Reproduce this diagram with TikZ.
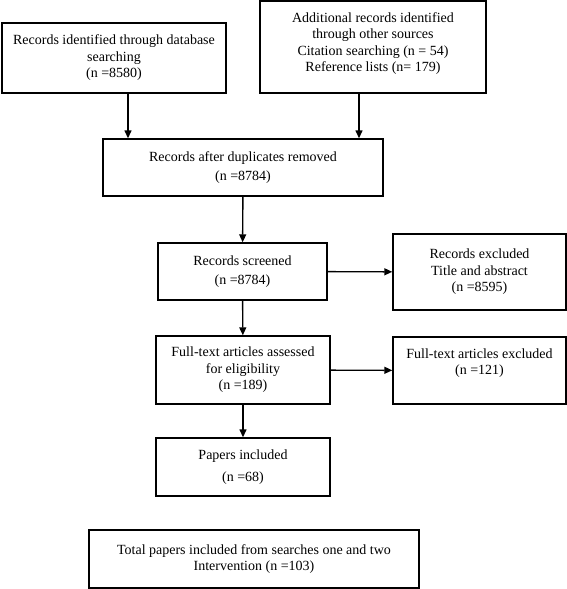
\documentclass[tikz,border=0pt]{standalone}
\usepackage{fontspec}
\setmainfont{Liberation Serif}
\usetikzlibrary{arrows.meta,calc}

\begin{document}
\begin{tikzpicture}[>={Triangle[length=8pt,width=7pt]},x=1pt,y=-1pt,
  box/.style={draw,line width=1.4pt,align=center,inner sep=2pt,
    font=\fontsize{14}{16.5}\selectfont},
  link/.style={->,line width=1.4pt}]
\useasboundingbox (0,0) rectangle (567,589);
\node[box,minimum width=224pt,minimum height=70pt] (dbsearch) at (114,58)
  {Records identified through database\\searching\\(n =8580)};
\node[box,minimum width=226pt,minimum height=92pt,text depth=10pt] (othersrc) at (373,47)
  {Additional records identified\\through other sources\\Citation searching (n = 54)\\Reference lists (n= 179)};
\node[box,minimum width=280pt,minimum height=57pt] (dupes) at (243,167.5)
  {Records after duplicates removed\\[2pt](n =8784)};
\node[box,minimum width=169pt,minimum height=57pt] (screened) at (242.5,271.5)
  {Records screened\\[3pt](n =8784)};
\node[box,minimum width=173pt,minimum height=76pt] (excluded) at (479.5,272)
  {Records excluded\\Title and abstract\\(n =8595)};
\node[box,minimum width=174pt,minimum height=68pt] (fulltext) at (243,370)
  {Full-text articles assessed\\for eligibility\\(n =189)};
\node[box,minimum width=173pt,minimum height=67pt,text depth=18pt] (ftexcl) at (479.5,370.5)
  {Full-text articles excluded\\(n =121)};
\node[box,minimum width=174pt,minimum height=58pt] (included) at (243,467)
  {Papers included\\[5pt](n =68)};
\node[box,minimum width=330pt,minimum height=58pt] (total) at (254,559)
  {Total papers included from searches one and two\\Intervention (n =103)};
\draw[link] ([xshift=14pt]dbsearch.south) -- ([xshift=14pt]dbsearch.south |- dupes.north);
\draw[link] ([xshift=-14pt]othersrc.south) -- ([xshift=-14pt]othersrc.south |- dupes.north);
\draw[link] (dupes) -- (screened);
\draw[link] (screened) -- (excluded);
\draw[link] (screened) -- (fulltext);
\draw[link] (fulltext) -- (ftexcl);
\draw[link] (fulltext) -- (included);
\end{tikzpicture}
\end{document}
